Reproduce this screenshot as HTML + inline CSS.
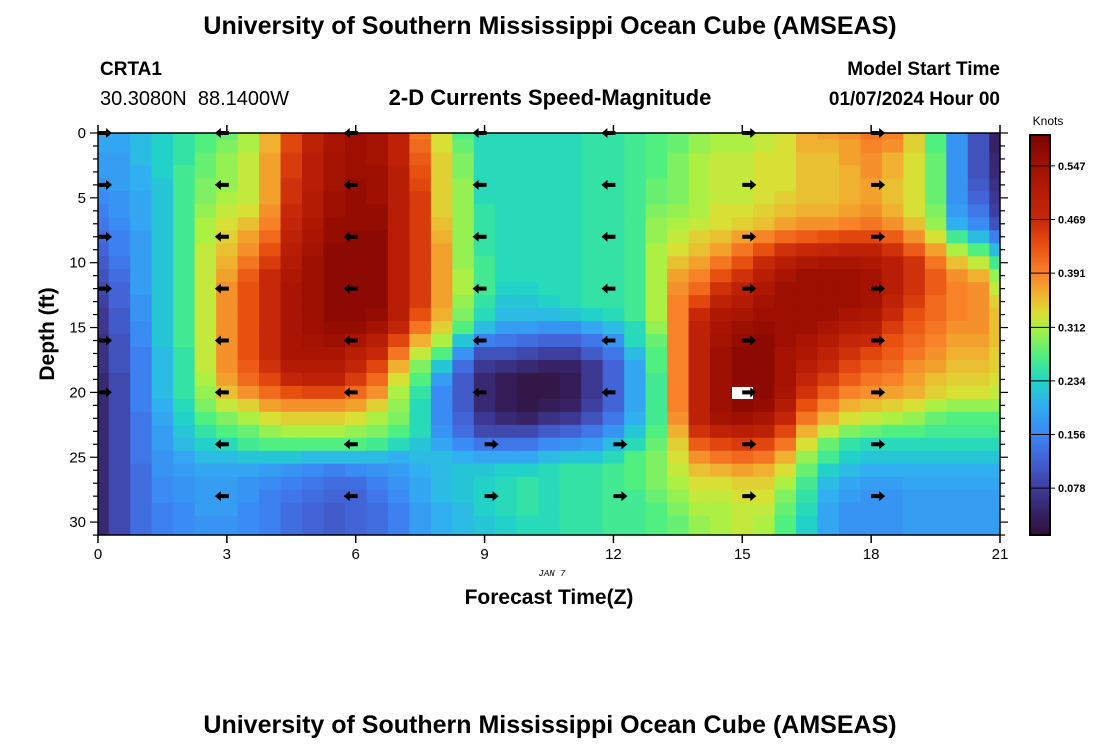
<!DOCTYPE html>
<html><head><meta charset="utf-8">
<style>
body{margin:0;background:#fff;}
svg{display:block;font-family:"Liberation Sans",sans-serif;}
</style></head>
<body>
<svg id="chart" width="1100" height="750" viewBox="0 0 1100 750">
<defs><clipPath id="plotclip"><rect x="98" y="133" width="902" height="402"/></clipPath></defs>
<text x="550" y="34" text-anchor="middle" font-size="25" font-weight="bold">University of Southern Mississippi Ocean Cube (AMSEAS)</text>
<text x="100" y="75" font-size="19" font-weight="bold">CRTA1</text>
<text x="100" y="105" font-size="20">30.3080N&#160;&#160;88.1400W</text>
<text x="550" y="105" text-anchor="middle" font-size="22" font-weight="bold">2-D Currents Speed-Magnitude</text>
<text x="1000" y="75" text-anchor="end" font-size="19" font-weight="bold">Model Start Time</text>
<text x="1000" y="105" text-anchor="end" font-size="19" font-weight="bold">01/07/2024 Hour 00</text>
<g id="cells" clip-path="url(#plotclip)"></g>
<g id="arrows"></g>
<rect x="98" y="133" width="902" height="402" fill="none" stroke="#000" stroke-width="1.5"/>
<g id="axes"></g>
<text x="54" y="334" text-anchor="middle" font-size="21" font-weight="bold" transform="rotate(-90 54 334)">Depth (ft)</text>
<text x="552" y="576" text-anchor="middle" font-size="9" font-style="italic" font-family="Liberation Mono, monospace">JAN 7</text>
<text x="549" y="604" text-anchor="middle" font-size="21" font-weight="bold">Forecast Time(Z)</text>
<g id="cbar"></g>
<text x="1048" y="125" text-anchor="middle" font-size="12">Knots</text>
<text x="550" y="733" text-anchor="middle" font-size="25" font-weight="bold">University of Southern Mississippi Ocean Cube (AMSEAS)</text>
</svg>
<script>
// time steps (hours) for each column, depths (ft) for each row
const timeSteps = [];for(let i=0;i<=42;i++)timeSteps.push(i*0.5);
const depths = [];for(let i=0;i<=31;i++)depths.push(i);
// speed (hundredths of knots) per time column, top to bottom depth
const speedCols = [
[19,19,18,18,17,16,15,14,13,12,11,10,9,8,7,7,6,6,6,5,5,5,5,5,5,5,5,5,5,5,5,5],
[19,19,18,18,18,17,17,16,15,15,14,13,12,12,11,11,10,10,10,9,9,9,9,9,9,9,9,9,9,9,9,9],
[21,21,21,20,20,19,19,19,18,18,18,18,18,17,17,16,16,15,15,15,15,15,14,14,14,14,13,13,13,13,13,13],
[23,23,23,23,22,22,22,22,22,22,22,22,22,22,22,22,22,21,21,21,21,20,19,18,18,17,17,16,16,15,15,15],
[25,25,25,26,26,26,26,26,26,26,26,26,26,26,26,26,26,25,25,25,25,24,23,22,21,19,18,17,17,16,16,16],
[27,27,28,28,29,29,30,31,31,32,32,32,32,32,32,32,32,32,32,31,30,29,27,25,23,21,19,18,18,18,17,17],
[28,29,30,30,30,31,32,33,34,35,36,37,38,38,38,38,38,38,38,37,35,32,29,27,24,21,19,18,18,18,17,17],
[31,31,32,32,32,32,33,35,37,38,40,42,43,43,43,43,43,43,42,41,38,34,31,28,26,22,19,17,17,16,16,16],
[36,36,37,37,37,37,38,39,41,43,45,47,47,47,47,47,47,47,46,44,41,37,33,30,27,22,18,16,15,15,15,15],
[44,44,45,45,46,46,47,48,49,50,51,52,53,53,53,53,53,53,51,48,43,38,34,31,27,22,17,15,14,13,13,13],
[49,49,50,50,50,51,51,52,53,54,55,55,55,55,55,55,54,53,51,49,44,38,34,31,27,21,16,14,13,12,12,12],
[53,53,54,54,54,55,55,56,56,57,57,57,57,57,57,56,55,53,51,49,44,38,34,31,27,21,15,13,12,11,11,11],
[55,55,55,55,56,56,56,56,57,57,57,57,57,57,57,56,53,50,48,45,41,37,33,30,27,21,16,13,12,12,12,12],
[54,54,54,55,55,55,56,56,57,57,57,57,57,57,56,54,50,47,44,41,38,34,31,29,26,21,17,15,14,13,13,13],
[49,49,49,50,50,50,50,50,50,50,50,50,50,50,50,48,44,40,36,33,31,30,29,27,24,20,18,17,16,15,15,15],
[40,41,42,43,44,45,45,45,45,45,45,45,45,45,43,40,36,32,29,27,25,24,24,24,22,21,20,19,19,18,18,18],
[33,33,34,34,34,34,34,35,36,37,37,37,37,37,36,34,31,27,22,18,16,16,16,17,19,21,21,21,21,20,20,20],
[27,28,29,29,30,30,30,30,30,30,30,31,31,30,29,27,22,17,13,11,11,11,12,13,16,20,22,22,22,21,21,21],
[24,24,24,24,24,24,25,25,25,25,26,26,26,25,24,21,15,10,7,5,5,5,7,9,14,19,22,23,23,23,22,22],
[24,24,24,24,24,24,24,24,24,24,24,24,23,22,21,18,14,10,6,3,3,3,5,9,14,19,23,24,24,24,23,23],
[24,24,24,24,24,24,24,24,24,24,24,24,23,22,21,18,13,9,5,2,2,2,4,9,14,19,23,25,25,25,24,24],
[24,24,24,24,24,24,24,24,24,24,24,24,24,23,21,17,12,8,4,2,2,3,6,11,16,21,24,24,24,24,24,24],
[24,24,24,24,24,24,24,24,24,24,24,24,24,24,22,17,12,8,4,3,3,4,7,12,17,22,25,25,25,25,25,25],
[25,25,25,25,25,25,25,25,25,25,25,25,25,25,23,19,14,11,7,7,7,8,10,14,18,22,25,25,25,25,25,25],
[25,25,25,25,25,25,25,25,25,25,25,25,25,25,24,21,17,14,12,12,12,12,14,17,21,24,26,26,26,26,26,26],
[26,26,26,26,26,26,26,26,26,26,26,26,26,26,26,24,24,21,19,19,19,19,20,22,24,27,27,27,26,26,26,26],
[27,27,27,27,28,28,29,30,30,31,31,31,31,31,31,30,28,27,27,26,26,26,26,27,28,29,29,29,28,27,27,27],
[28,28,29,29,29,29,30,31,32,33,35,37,38,39,39,39,39,39,39,39,39,39,38,36,34,33,32,31,30,29,28,28],
[30,30,31,31,31,31,31,32,34,35,37,39,41,44,47,49,49,49,49,49,49,49,49,46,42,38,35,33,32,31,30,30],
[31,31,32,32,32,32,33,33,35,37,40,43,46,49,52,53,54,55,55,55,55,55,54,49,44,40,36,33,32,31,31,31],
[31,31,32,32,32,32,33,34,37,40,43,46,49,51,53,55,56,57,57,57,57,57,55,50,45,41,37,34,33,32,32,32],
[32,32,33,33,33,33,34,35,39,43,47,50,52,54,55,56,57,57,57,57,57,56,53,49,44,40,36,34,33,32,31,31],
[33,33,33,33,33,34,35,37,41,46,50,53,55,55,55,55,55,54,54,54,53,51,48,44,40,36,33,31,29,28,27,27],
[36,36,35,35,35,35,36,38,42,47,52,55,55,55,55,55,53,52,50,48,46,43,40,36,33,30,28,26,25,24,23,23],
[37,36,35,35,35,35,36,38,43,48,53,55,55,55,55,53,51,49,47,45,42,39,36,32,28,26,23,21,20,19,19,19],
[38,37,37,36,36,36,37,39,44,49,53,55,55,55,53,51,48,46,44,42,39,36,33,29,25,23,21,19,18,17,17,17],
[40,39,38,38,37,37,38,40,44,49,52,54,54,54,52,50,47,44,42,40,38,35,32,28,24,22,20,18,17,17,17,17],
[39,38,36,36,35,35,36,38,42,46,50,50,50,49,47,45,43,42,41,39,37,34,31,27,24,22,20,18,17,17,17,17],
[34,34,33,33,33,33,33,35,38,42,46,46,46,45,43,42,41,40,38,37,36,33,30,27,24,22,20,19,18,18,18,18],
[27,27,28,28,28,28,29,30,33,37,40,42,42,41,41,40,39,38,37,35,34,31,28,26,24,22,20,19,18,18,18,18],
[17,17,17,17,17,17,18,20,26,31,35,38,39,39,39,38,37,36,35,34,33,30,27,26,24,22,20,19,18,18,18,18],
[10,10,10,10,11,12,14,16,21,27,32,36,38,38,38,38,37,36,35,34,33,30,27,26,24,22,20,19,18,18,18,18],
[4,4,5,5,6,7,8,10,15,21,26,30,32,34,35,35,35,34,34,33,32,30,27,26,24,22,20,19,18,18,18,18]
];
// arrows: hours, depths, direction (1 right, -1 left)
const arrowTimes = [0,3,6,9,12,15,18];
const arrowDepths = [0,4,8,12,16,20,24,28];
const arrowDirs = [
[1,1,1,1,1,1,0,0],
[-1,-1,-1,-1,-1,-1,-1,-1],
[-1,-1,-1,-1,-1,-1,-1,-1],
[-1,-1,-1,-1,-1,-1,1,1],
[-1,-1,-1,-1,-1,-1,1,1],
[1,1,1,1,1,1,1,1],
[1,1,1,1,1,1,1,1]
];
const xTicks = [0,3,6,9,12,15,18,21];
const yTicks = [0,5,10,15,20,25,30];
const cbarTicks = [0.078,0.156,0.234,0.312,0.391,0.469,0.547];
const vMin = 0.0097, vMax = 0.592;

const NS="http://www.w3.org/2000/svg";
const X = t => 98 + t*(902/21);
const Y = d => 133 + d*12.97;
const CB = v => 535 - (v-vMin)/(vMax-vMin)*400;
// colour stops matched to reference colorbar (value -> rgb)
const stopV=[0.01,0.04,0.078,0.12,0.156,0.20,0.234,0.27,0.312,0.33,0.36,0.391,0.43,0.469,0.547,0.592];
const stopC=[[48,18,59],[54,34,100],[62,62,158],[66,100,215],[60,135,245],[48,176,240],[32,214,196],[80,240,128],[176,240,64],[216,224,53],[240,176,48],[248,128,40],[232,80,16],[200,40,8],[160,16,0],[122,4,3]];
function colorOf(v){
 if(v<=stopV[0])return `rgb(${stopC[0]})`;
 for(let i=1;i<stopV.length;i++){if(v<=stopV[i]){const f=(v-stopV[i-1])/(stopV[i]-stopV[i-1]);
  const c=stopC[i-1].map((a,k)=>Math.round(a+(stopC[i][k]-a)*f));return `rgb(${c})`;}}
 return `rgb(${stopC[stopC.length-1]})`;}
function mk(tag,attrs,parent){const e=document.createElementNS(NS,tag);for(const k in attrs)e.setAttribute(k,attrs[k]);parent.appendChild(e);return e;}

const cells=document.getElementById('cells');
const cw=X(0.5)-X(0), ch=Y(1)-Y(0);
speedCols.forEach((col,i)=>{col.forEach((s,j)=>{
 const r=mk('rect',{x:(X(timeSteps[i])-cw/2).toFixed(2),y:(Y(depths[j])-ch/2).toFixed(2),width:(cw+0.6).toFixed(2),height:(ch+0.6).toFixed(2),fill:colorOf(s/100)},cells);
 
 
});});

const arrows=document.getElementById('arrows');
mk('rect',{x:732,y:387,width:21,height:12,fill:'#fff'},arrows);
arrowTimes.forEach((t,i)=>arrowDepths.forEach((d,j)=>{
 const dir=arrowDirs[i][j]; if(!dir)return;
 const x0=X(t)+(dir>0?0:2), y0=Y(d), L=14;
 const x1=x0+dir*L;
 const hb=x1-dir*6;
 const p=mk('path',{d:`M${x0},${y0-2}L${hb},${y0-2}L${hb},${y0-5}L${x1},${y0}L${hb},${y0+5}L${hb},${y0+2}L${x0},${y0+2}Z`,fill:'#000'},arrows);
 
 
}));

const axes=document.getElementById('axes');
xTicks.forEach(t=>{
 mk('line',{x1:X(t),x2:X(t),y1:125,y2:133,stroke:'#000','stroke-width':1.5},axes);
 mk('line',{x1:X(t),x2:X(t),y1:535,y2:543,stroke:'#000','stroke-width':1.5},axes);
 const tx=mk('text',{x:X(t),y:559,'text-anchor':'middle','font-size':15},axes);tx.textContent=t;
 
 
});
for(let d=0;d<=31;d++){const major=d%5===0;const L=major?8:5;
 mk('line',{x1:98-L,x2:98,y1:Y(d),y2:Y(d),stroke:'#000','stroke-width':1.2},axes);
 mk('line',{x1:1000,x2:1000+L,y1:Y(d),y2:Y(d),stroke:'#000','stroke-width':1.2},axes);}
yTicks.forEach(d=>{const tx=mk('text',{x:86,y:Y(d)+5,'text-anchor':'end','font-size':15},axes);tx.textContent=d;
 
 });

const cbar=document.getElementById('cbar');
for(let i=0;i<200;i++){const v=vMin+(vMax-vMin)*i/200;
 mk('rect',{x:1030,y:(CB(v)-2.1).toFixed(2),width:20,height:2.2,fill:colorOf(v)},cbar);}
mk('rect',{x:1030,y:135,width:20,height:400,fill:'none',stroke:'#000','stroke-width':2},cbar);
cbarTicks.forEach(v=>{mk('line',{x1:1030,x2:1055,y1:CB(v),y2:CB(v),stroke:'#000','stroke-width':1},cbar);
 const tx=mk('text',{x:1058,y:CB(v)+4,'font-size':11,'font-weight':'bold'},cbar);tx.textContent=v.toFixed(3);
 
 });
</script>
</body></html>
